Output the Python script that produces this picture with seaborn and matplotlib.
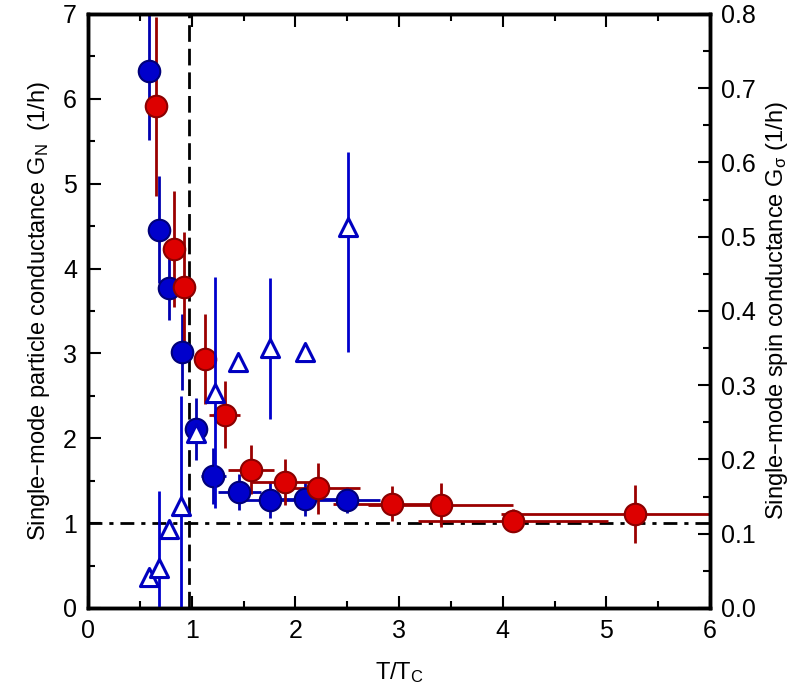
import numpy as np
import pandas as pd
import seaborn as sns
import matplotlib
matplotlib.use('Agg')
import matplotlib.pyplot as plt
from matplotlib.ticker import MultipleLocator

# particle conductance, dataset 1 (blue circles)
blue_T = [0.59, 0.68, 0.78, 0.91, 1.04, 1.21, 1.46, 1.76, 2.09, 2.50]
blue_G = [6.33, 4.46, 3.77, 3.02, 2.11, 1.55, 1.37, 1.27, 1.28, 1.27]
blue_Gerr = [0.82, 0.63, 0.38, 0.45, 0.37, 0.33, 0.21, 0.21, 0.20, 0.15]
blue_Terr = [0, 0, 0, 0.09, 0.10, 0.12, 0.21, 0.28, 0.30, 0.32]

# particle conductance, dataset 2 (red circles)
red_T = [0.66, 0.83, 0.93, 1.13, 1.32, 1.57, 1.90, 2.22, 2.93, 3.40, 4.10, 5.28]
red_G = [5.91, 4.23, 3.78, 2.93, 2.28, 1.63, 1.48, 1.41, 1.23, 1.21, 1.03, 1.11]
red_Gerr = [1.06, 0.68, 0.65, 0.53, 0.40, 0.29, 0.27, 0.30, 0.21, 0.26, 0.14, 0.34]
red_Terr = [0, 0, 0, 0.08, 0.15, 0.22, 0.33, 0.40, 0.57, 0.70, 0.92, 1.30]

# spin conductance (open triangles, right axis)
tri_T = [0.59, 0.68, 0.78, 0.90, 1.04, 1.22, 1.45, 1.76, 2.09, 2.51]
tri_G = [0.042, 0.054, 0.107, 0.137, 0.235, 0.290, 0.331, 0.350, 0.345, 0.513]
tri_err_lo = [0, 0.103, 0, 0.148, 0, 0.156, 0, 0.095, 0, 0.168]
tri_err_hi = [0, 0.103, 0, 0.148, 0, 0.156, 0, 0.095, 0, 0.101]

T_crit = 0.97
G_ref = 1.0

sns.set_style("ticks")
plt.rcParams['font.family'] = ['Liberation Sans', 'DejaVu Sans']
plt.rcParams['mathtext.default'] = 'regular'
plt.rcParams['xtick.direction'] = 'in'
plt.rcParams['ytick.direction'] = 'in'
plt.rcParams['text.color'] = 'black'
plt.rcParams['axes.labelcolor'] = 'black'
plt.rcParams['xtick.color'] = 'black'
plt.rcParams['ytick.color'] = 'black'

df_blue = pd.DataFrame({'T': blue_T, 'G': blue_G})
df_red = pd.DataFrame({'T': red_T, 'G': red_G})
df_tri = pd.DataFrame({'T': tri_T, 'G': tri_G})

fig = plt.figure(figsize=(7.96, 6.89), dpi=100)
ax = fig.add_axes([0.1106, 0.1176, 0.7814, 0.8621])

ax.axhline(G_ref, color='black', lw=2, dashes=(5, 2.5, 1.5, 2.5), zorder=1)
ax.axvline(T_crit, color='black', lw=2, dashes=(6, 2.5), zorder=1)

# error bars
ax.errorbar(blue_T, blue_G, yerr=blue_Gerr, xerr=blue_Terr, fmt='none',
            ecolor='#0000b0', elinewidth=2, capsize=0, zorder=2)
ax.errorbar(red_T, red_G, yerr=red_Gerr, xerr=red_Terr, fmt='none',
            ecolor='#9a0000', elinewidth=2, capsize=0, zorder=2)

sns.scatterplot(data=df_blue, x='T', y='G', ax=ax, color='#0000cc', s=240,
                edgecolor='#00007a', linewidth=1.5, zorder=3)
sns.scatterplot(data=df_red, x='T', y='G', ax=ax, color='#dd0000', s=240,
                edgecolor='#8b0000', linewidth=1.5, zorder=4)

ax.set_xlim(0, 6)
ax.set_ylim(0, 7)
ax.xaxis.set_major_locator(MultipleLocator(1))
ax.xaxis.set_minor_locator(MultipleLocator(0.5))
ax.yaxis.set_major_locator(MultipleLocator(1))
ax.yaxis.set_minor_locator(MultipleLocator(0.5))
ax.tick_params(which='both', top=True, width=1.5, labelsize=18, pad=8)
ax.tick_params(which='major', length=9)
ax.tick_params(which='minor', length=5)
ax.set_xlabel('T/T$_C$', fontsize=17, labelpad=12)
ax.set_ylabel('Single\u2013mode particle conductance G$_N$  (1/h)', fontsize=17, labelpad=8)

ax2 = ax.twinx()
ax2.errorbar(tri_T, tri_G, yerr=[tri_err_lo, tri_err_hi], fmt='none',
             ecolor='#0000cc', elinewidth=2, capsize=0, zorder=2)
sns.scatterplot(data=df_tri, x='T', y='G', ax=ax2, marker='^', s=170,
                facecolor='white', edgecolor='#0000c0', linewidth=2.2, zorder=3)
ax2.set_ylim(0, 0.8)
ax2.yaxis.set_major_locator(MultipleLocator(0.1))
ax2.yaxis.set_minor_locator(MultipleLocator(0.05))
ax2.yaxis.set_major_formatter(matplotlib.ticker.FormatStrFormatter('%.1f'))
ax2.tick_params(which='both', width=1.5, labelsize=18, pad=8)
ax2.tick_params(which='major', length=9)
ax2.tick_params(which='minor', length=5)
ax2.set_ylabel('Single\u2013mode spin conductance G$_\u03c3$ (1/h)', fontsize=17, labelpad=6)

for a in (ax, ax2):
    for s in a.spines.values():
        s.set_linewidth(2.5)
        s.set_color('black')
        s.set_visible(True)

fig.savefig('out.png', dpi=100)
